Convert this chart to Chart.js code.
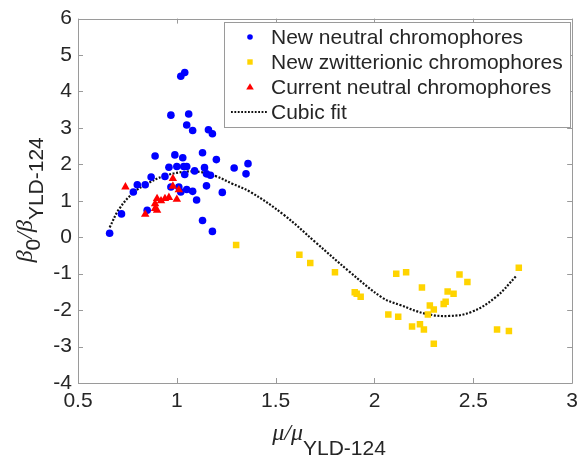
<!DOCTYPE html>
<html>
<head>
<meta charset="utf-8">
<script src="https://cdn.jsdelivr.net/npm/chart.js@4.4.1/dist/chart.umd.min.js"></script>
<style>
  html, body { margin: 0; padding: 0; background: #fff; }
  #wrap { width: 584px; height: 461px; }
</style>
</head>
<body>
<div id="wrap"><canvas id="dipole-chart" width="584" height="461"></canvas></div>
<script>
const blue = "#0000ff"
const yellow = "#ffd400"
const red = "#ff0000"
const text_color = "#262626"
const axis_color = "#9a9a9a"

// new neutral chromophores (mu ratio, beta ratio)
const neutralX = [0.66, 0.72, 0.78, 0.80, 0.84, 0.87, 0.89, 0.85, 0.94, 0.96, 0.97, 0.99, 1.00, 1.02, 1.04,
                  1.03, 1.035, 1.05, 1.04, 1.05, 1.06, 1.08, 1.09, 0.97, 1.01, 1.02, 1.05, 1.08, 1.10, 1.13,
                  1.14, 1.15, 1.15, 1.13, 1.16, 1.18, 1.17, 1.18, 1.20, 1.23, 1.29, 1.35, 1.36]
const neutralY = [0.11, 0.64, 1.24, 1.44, 1.44, 1.65, 2.23, 0.74, 1.67, 1.92, 3.35, 2.26, 1.94, 4.42, 4.52,
                  2.18, 1.94, 1.94, 1.72, 3.08, 3.38, 2.93, 1.82, 1.38, 1.38, 1.24, 1.31, 1.26, 1.02, 2.32,
                  1.91, 1.74, 1.41, 0.46, 2.95, 2.84, 1.70, 0.16, 2.13, 1.23, 1.90, 1.74, 2.02]

// new zwitterionic chromophores
const zwitterX = [1.30, 1.62, 1.675, 1.80, 1.90, 1.91, 1.93, 2.07, 2.12, 2.11, 2.16, 2.19, 2.23, 2.25,
                  2.24, 2.28, 2.30, 2.27, 2.30, 2.35, 2.36, 2.37, 2.40, 2.43, 2.47, 2.62, 2.68, 2.73]
const zwitterY = [-0.21, -0.48, -0.71, -0.96, -1.51, -1.55, -1.63, -2.12, -2.18, -1.00, -0.96, -2.45, -2.39, -2.53,
                  -1.38, -1.87, -1.98, -2.12, -2.92, -1.83, -1.77, -1.49, -1.55, -1.02, -1.23, -2.53, -2.57, -0.84]

// current neutral chromophores
const currentX = [0.74, 0.84, 0.89, 0.90, 0.90, 0.94, 0.96, 0.98, 0.98, 1.00, 1.01, 0.92, 0.89]
const currentY = [1.38, 0.63, 0.79, 0.74, 1.06, 1.06, 1.09, 1.61, 1.40, 1.04, 1.30, 1.00, 0.92]

// cubic fit, sampled along the curve
const fitX = [0.66, 0.71, 0.78, 0.85, 0.93, 1.03, 1.12, 1.20, 1.28, 1.37, 1.54, 1.70, 1.87, 2.04, 2.13,
              2.26, 2.38, 2.49, 2.61, 2.72]
const fitY = [0.27, 0.79, 1.22, 1.47, 1.67, 1.79, 1.79, 1.67, 1.47, 1.25, 0.62, -0.13, -0.93, -1.66, -1.86,
              -2.10, -2.16, -2.05, -1.66, -1.05]

const xTicks = [0.5, 1, 1.5, 2, 2.5, 3]
const yTicks = [-4, -3, -2, -1, 0, 1, 2, 3, 4, 5, 6]

const legendLabels = ["New neutral chromophores", "New zwitterionic chromophores",
                      "Current neutral chromophores", "Cubic fit"]

const sans_family = '"Liberation Sans", Arial, sans-serif'

function pairs(xs, ys) {
    return xs.map((x, i) => ({ x: x, y: ys[i] }))
}

// draws text pieces one after another (used for sub-scripted labels)
function drawRuns(ctx, runs, x, y) {
    runs.forEach((r) => {
        ctx.font = r.font
        ctx.fillText(r.text, x, y + r.dy)
        x += ctx.measureText(r.text).width
    })
}
function runsWidth(ctx, runs) {
    let w = 0
    runs.forEach((r) => { ctx.font = r.font; w += ctx.measureText(r.text).width })
    return w
}

// box round the plot, inward ticks on all four sides, axis titles and legend
const frame = {
    id: 'frame',
    afterDraw(chart) {
        const ctx = chart.ctx
        const a = chart.chartArea
        const xs = chart.scales.x
        const ys = chart.scales.y
        ctx.save()
        ctx.strokeStyle = axis_color
        ctx.lineWidth = 1
        ctx.beginPath()
        ctx.rect(Math.round(a.left) + 0.5, Math.round(a.top) + 0.5, Math.round(a.right - a.left), Math.round(a.bottom - a.top))
        xTicks.forEach((v) => {
            const px = Math.round(xs.getPixelForValue(v)) + 0.5
            ctx.moveTo(px, a.bottom); ctx.lineTo(px, a.bottom - 5)
            ctx.moveTo(px, a.top); ctx.lineTo(px, a.top + 5)
        })
        yTicks.forEach((v) => {
            const py = Math.round(ys.getPixelForValue(v)) + 0.5
            ctx.moveTo(a.left, py); ctx.lineTo(a.left + 5, py)
            ctx.moveTo(a.right, py); ctx.lineTo(a.right - 5, py)
        })
        ctx.stroke()

        // axis titles
        ctx.fillStyle = text_color
        ctx.textBaseline = 'alphabetic'
        ctx.textAlign = 'left'
        const greek = 'italic 24px "Liberation Serif", "DejaVu Serif", serif'
        const sans = '21px ' + sans_family
        const xRuns = [
            { text: "\u03bc/\u03bc", font: greek, dy: 0 },
            { text: "YLD-124", font: sans, dy: 15 },
        ]
        const xw = runsWidth(ctx, xRuns)
        drawRuns(ctx, xRuns, (a.left + a.right) / 2 + 4 - xw / 2, 440)

        const yRuns = [
            { text: "\u03b2", font: greek, dy: 0 },
            { text: "0", font: sans, dy: 8 },
            { text: "/\u03b2", font: greek, dy: 0 },
            { text: "YLD-124", font: sans, dy: 11 },
        ]
        const yw = runsWidth(ctx, yRuns)
        ctx.save()
        ctx.translate(32, (a.top + a.bottom) / 2 - 1)
        ctx.rotate(-Math.PI / 2)
        drawRuns(ctx, yRuns, -yw / 2, 0)
        ctx.restore()

        // legend
        const box = { left: 224, top: 22, right: 570, bottom: 127 }
        ctx.fillStyle = "#ffffff"
        ctx.fillRect(box.left, box.top, box.right - box.left, box.bottom - box.top)
        ctx.strokeStyle = axis_color
        ctx.strokeRect(box.left + 0.5, box.top + 0.5, box.right - box.left, box.bottom - box.top)
        const rows = [37, 62, 87, 112]
        const mx = 250
        ctx.fillStyle = blue
        ctx.beginPath(); ctx.arc(mx, rows[0], 2.8, 0, Math.PI * 2); ctx.fill()
        ctx.fillStyle = yellow
        ctx.fillRect(mx - 2.7, rows[1] - 2.7, 5.4, 5.4)
        ctx.fillStyle = red
        ctx.beginPath()
        ctx.moveTo(mx, rows[2] - 3.8); ctx.lineTo(mx + 3.8, rows[2] + 2.6); ctx.lineTo(mx - 3.8, rows[2] + 2.6)
        ctx.closePath(); ctx.fill()
        ctx.strokeStyle = "#111"
        ctx.lineWidth = 2
        ctx.setLineDash([1.8, 1.6])
        ctx.beginPath(); ctx.moveTo(231, rows[3]); ctx.lineTo(268, rows[3]); ctx.stroke()
        ctx.setLineDash([])
        ctx.fillStyle = text_color
        ctx.font = sans
        ctx.textBaseline = 'middle'
        legendLabels.forEach((t, i) => ctx.fillText(t, 271, rows[i] + 1))
        ctx.restore()
    }
}

const ctx = document.getElementById('dipole-chart')
new Chart(ctx, {
    type: 'scatter',
    data: {
        datasets: [{
            label: legendLabels[3],
            type: 'line',
            data: pairs(fitX, fitY),
            borderColor: "#111111",
            borderWidth: 2.2,
            borderDash: [2, 1.6],
            pointRadius: 0,
            tension: 0.4,
            fill: false,
            order: 4,
        }, {
            label: legendLabels[0],
            data: pairs(neutralX, neutralY),
            pointStyle: 'circle',
            pointRadius: 3.8,
            backgroundColor: blue,
            borderColor: blue,
            borderWidth: 0,
            order: 3,
        }, {
            label: legendLabels[1],
            data: pairs(zwitterX, zwitterY),
            pointStyle: 'rect',
            pointRadius: 4.6,
            backgroundColor: yellow,
            borderColor: yellow,
            borderWidth: 0,
            order: 2,
        }, {
            label: legendLabels[2],
            data: pairs(currentX, currentY),
            pointStyle: 'triangle',
            pointRadius: 4.9,
            backgroundColor: red,
            borderColor: red,
            borderWidth: 0,
            order: 1,
        }]
    },
    options: {
        responsive: false,
        animation: false,
        events: [],
        layout: {
            padding: { left: 0, top: 14, right: 10, bottom: 0 }
        },
        plugins: {
            legend: { display: false },
            tooltip: { enabled: false },
        },
        scales: {
            x: {
                type: 'linear',
                min: 0.5,
                max: 3,
                afterBuildTicks(scale) { scale.ticks = xTicks.map((v) => ({ value: v })) },
                afterFit(scale) { scale.height = 78 },
                ticks: {
                    color: text_color,
                    padding: 6,
                    font: { family: sans_family, size: 21 },
                    callback: (v) => String(v),
                },
                grid: { display: false, drawTicks: false },
                border: { display: false },
            },
            y: {
                type: 'linear',
                min: -4,
                max: 6,
                afterBuildTicks(scale) { scale.ticks = yTicks.map((v) => ({ value: v })) },
                afterFit(scale) { scale.width = 78 },
                ticks: {
                    color: text_color,
                    padding: 6,
                    font: { family: sans_family, size: 21 },
                    callback: (v) => String(v),
                },
                grid: { display: false, drawTicks: false },
                border: { display: false },
            }
        }
    },
    plugins: [frame]
});
</script>
</body>
</html>
